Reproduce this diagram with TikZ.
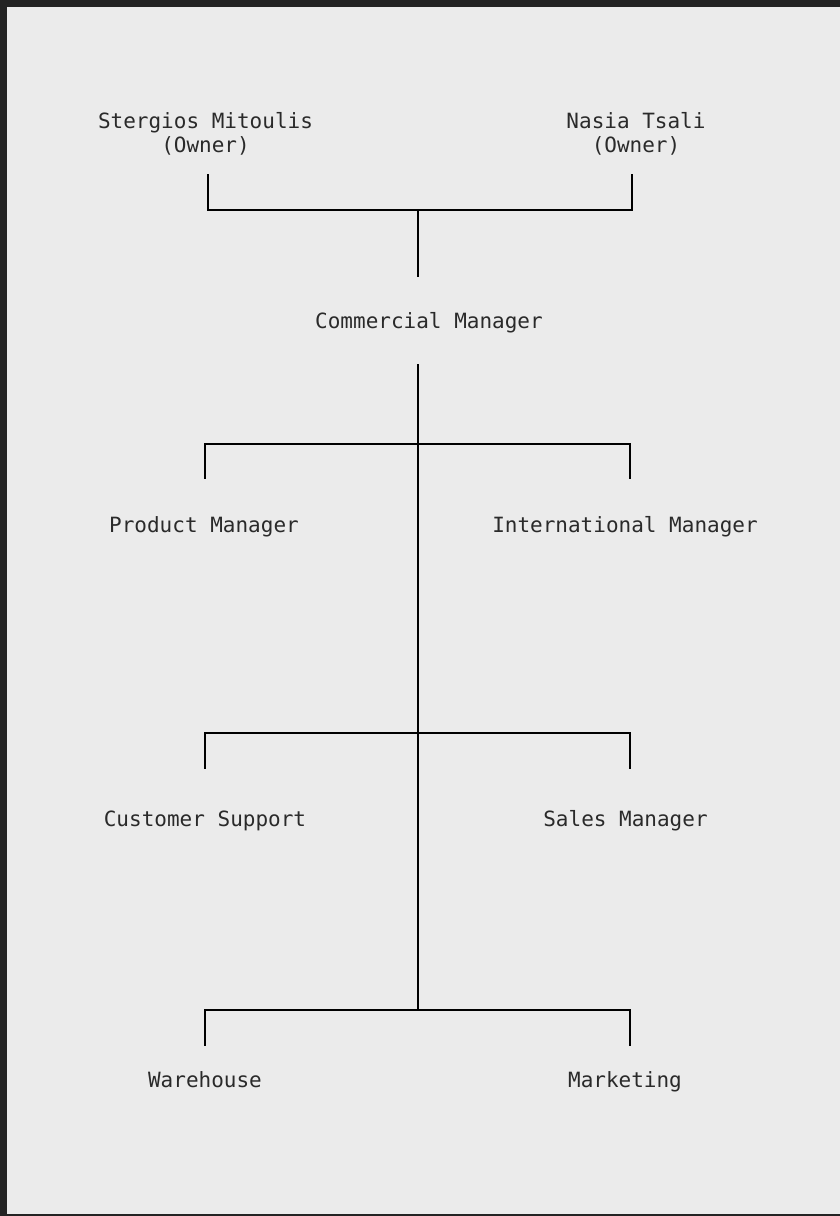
\documentclass[tikz,border=0pt]{standalone}
\usepackage{fontspec}
\setmonofont{DejaVu Sans Mono}
\definecolor{frame}{HTML}{232323}
\definecolor{panel}{HTML}{EBEBEB}
\definecolor{ink}{HTML}{2A2A2A}
\begin{document}
\begin{tikzpicture}[x=1pt,y=-1pt,
  lbl/.style={inner sep=0pt,outer sep=0pt,text=ink,font=\ttfamily\fontsize{21}{24}\selectfont,align=center},
  conn/.style={line width=2.8pt,draw=black,line cap=rect}]
\useasboundingbox (0,0) rectangle (840,1216);
\fill[frame] (0,0) rectangle (840,1216);
\fill[panel] (7,7) rectangle (840,1214);
% nodes
\node[lbl] (own1) at (205.5,134) {Stergios Mitoulis\\(Owner)};
\node[lbl] (own2) at (636,134) {Nasia Tsali\\(Owner)};
\node[lbl,anchor=base] (cm) at (429,328) {Commercial Manager};
\node[lbl,anchor=base] (pm) at (204,532) {Product Manager};
\node[lbl,anchor=base] (im) at (625,532) {International Manager};
\node[lbl,anchor=base] (cs) at (205,826) {Customer Support};
\node[lbl,anchor=base] (sm) at (625.5,826) {Sales Manager};
\node[lbl,anchor=base] (wh) at (205,1087) {Warehouse};
\node[lbl,anchor=base] (mk) at (625,1087) {Marketing};
% junction coordinates
\coordinate (o1t) at (208,175);
\coordinate (o1b) at (208,210);
\coordinate (o2t) at (632,175);
\coordinate (o2b) at (632,210);
\coordinate (oj) at (418,210);
\coordinate (cmt) at (418,276);
\coordinate (cmb) at (418,365);
\coordinate (j3) at (418,1010);
\coordinate (pmt) at (205,478);
\coordinate (pmj) at (205,444);
\coordinate (imt) at (630,478);
\coordinate (imj) at (630,444);
\coordinate (cst) at (205,768);
\coordinate (csj) at (205,733);
\coordinate (smt) at (630,768);
\coordinate (smj) at (630,733);
\coordinate (wht) at (205,1045);
\coordinate (whj) at (205,1010);
\coordinate (mkt) at (630,1045);
\coordinate (mkj) at (630,1010);
% connectors
\draw[conn] (o1t) -- (o1b) -- (o2b) -- (o2t);
\draw[conn] (oj) -- (cmt);
\draw[conn] (cmb) -- (j3);
\draw[conn] (pmt) -- (pmj) -- (imj) -- (imt);
\draw[conn] (cst) -- (csj) -- (smj) -- (smt);
\draw[conn] (wht) -- (whj) -- (mkj) -- (mkt);
\end{tikzpicture}
\end{document}
